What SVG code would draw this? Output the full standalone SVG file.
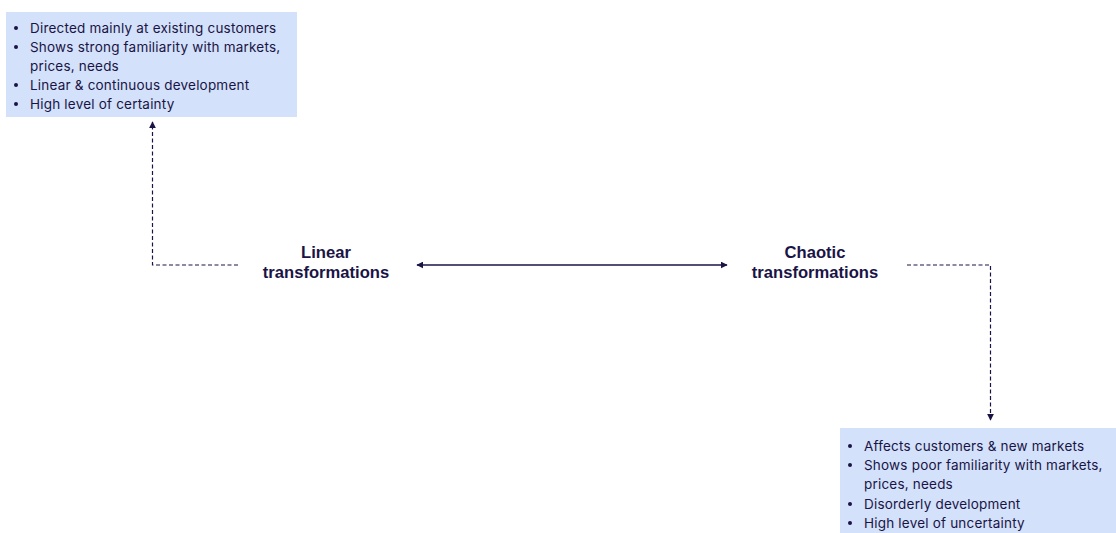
<svg xmlns="http://www.w3.org/2000/svg" width="1116" height="533" viewBox="0 0 1116 533">
<defs>
<style>
.box{fill:#d3e1fa}
.bt{font-family:Inter,"Noto Sans",sans-serif;font-size:13.5px;letter-spacing:0.2px;fill:#1a1446}
.lbl{font-family:"Liberation Sans",Arial,sans-serif;font-size:16.6px;font-weight:bold;fill:#1a1446;text-anchor:middle}
.dash{fill:none;stroke:#1a1446;stroke-width:1.2;stroke-dasharray:4 2.5}
.solid{fill:none;stroke:#1a1446;stroke-width:1.3}
</style>
<marker id="ah" viewBox="0 0 10 10" refX="9" refY="5" markerWidth="7" markerHeight="7" markerUnits="userSpaceOnUse" orient="auto-start-reverse">
<path d="M0,0 L10,5 L0,10 z" fill="#1a1446"/>
</marker>
</defs>
<rect width="1116" height="533" fill="#ffffff"/>
<g id="box-linear">
<rect class="box" x="6" y="12" width="291" height="105"/>
<g class="bt">
<circle cx="16" cy="28" r="2" fill="#1a1446"/>
<text x="30" y="32.5">Directed mainly at existing customers</text>
<circle cx="16" cy="47" r="2" fill="#1a1446"/>
<text x="30" y="51.5">Shows strong familiarity with markets,</text>
<text x="30" y="70.5">prices, needs</text>
<circle cx="16" cy="85" r="2" fill="#1a1446"/>
<text x="30" y="89.5">Linear &amp; continuous development</text>
<circle cx="16" cy="104" r="2" fill="#1a1446"/>
<text x="30" y="108.5">High level of certainty</text>
</g>
</g>
<g id="box-chaotic">
<rect class="box" x="840" y="428" width="276" height="105"/>
<g class="bt">
<circle cx="850" cy="446" r="2" fill="#1a1446"/>
<text x="864" y="450.5">Affects customers &amp; new markets</text>
<circle cx="850" cy="465" r="2" fill="#1a1446"/>
<text x="864" y="469.5">Shows poor familiarity with markets,</text>
<text x="864" y="488.5">prices, needs</text>
<circle cx="850" cy="504" r="2" fill="#1a1446"/>
<text x="864" y="508.5">Disorderly development</text>
<circle cx="850" cy="523" r="2" fill="#1a1446"/>
<text x="864" y="527.5">High level of uncertainty</text>
</g>
</g>
<g id="node-linear">
<text class="lbl" x="326" y="258">Linear</text>
<text class="lbl" x="326" y="278">transformations</text>
</g>
<g id="node-chaotic">
<text class="lbl" x="815" y="258">Chaotic</text>
<text class="lbl" x="815" y="278">transformations</text>
</g>
<g id="connectors">
<path class="solid" d="M417,265 H727" marker-start="url(#ah)" marker-end="url(#ah)"/>
<path class="dash" d="M238,265 H152.5 V122" marker-end="url(#ah)"/>
<path class="dash" d="M907,265 H990.5 V420" marker-end="url(#ah)"/>
</g>
</svg>
